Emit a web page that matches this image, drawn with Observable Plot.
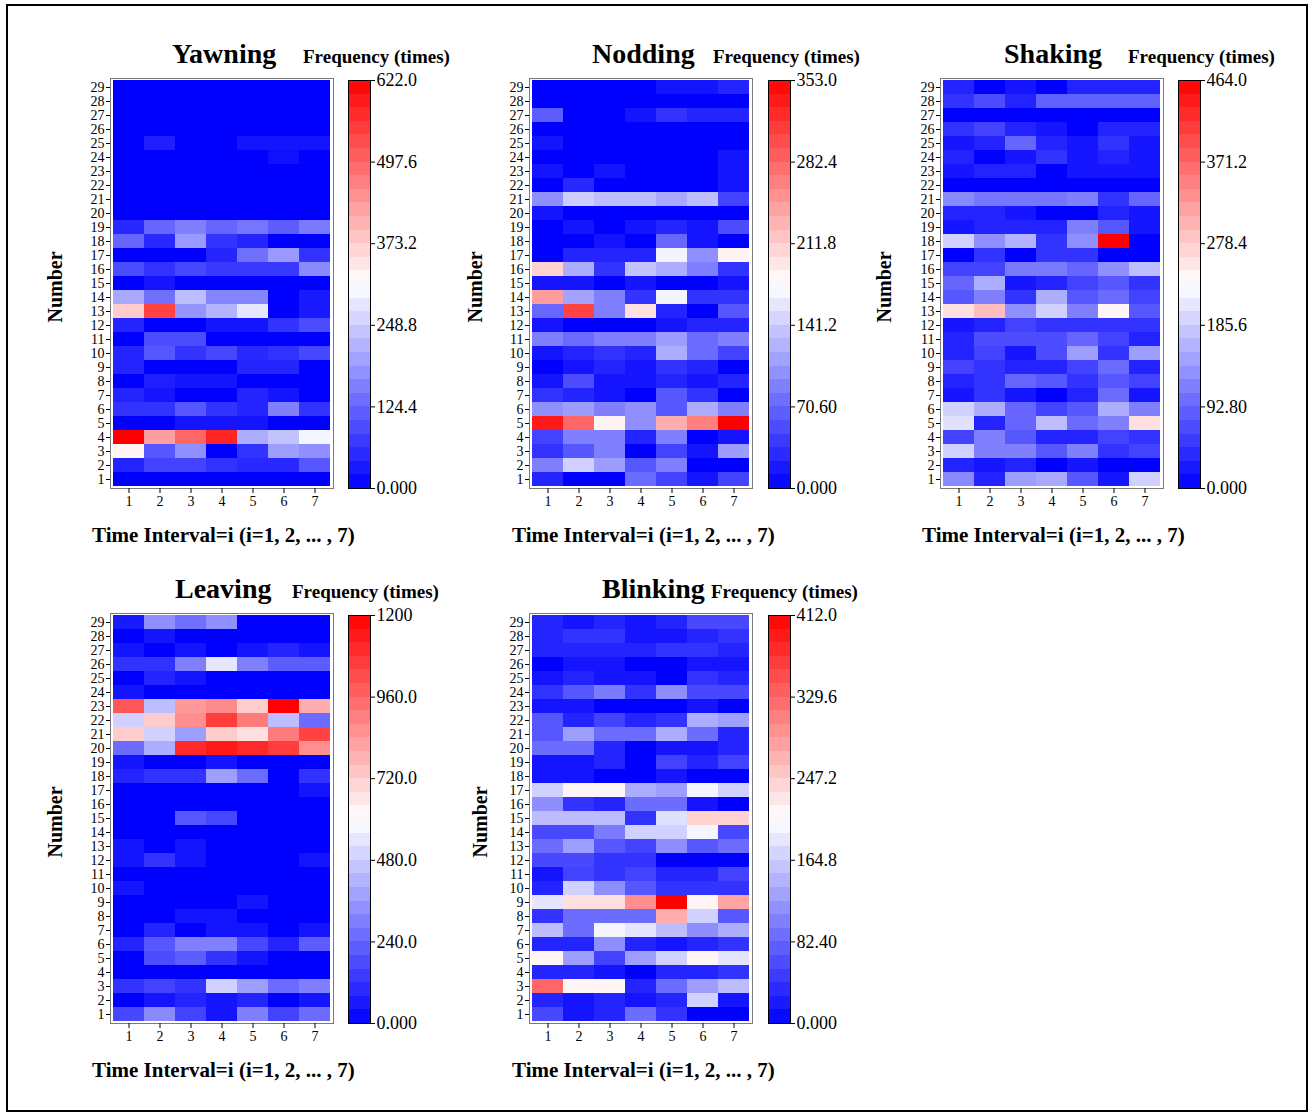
<!DOCTYPE html>
<html><head><meta charset="utf-8">
<script src="https://cdn.jsdelivr.net/npm/d3@7"></script>
<script src="https://cdn.jsdelivr.net/npm/@observablehq/plot@0.6"></script>
<style>
body{margin:0;background:#fff;font-family:"Liberation Serif","Times New Roman",serif;}
#page{position:relative;width:1313px;height:1115px;overflow:hidden;background:#fff;}
#border{position:absolute;left:6px;top:4px;width:1298px;height:1104px;border:2px solid #000;}
.abs{position:absolute;white-space:nowrap;color:#000;}
.title{font-size:28px;font-weight:bold;line-height:28px;}
.freq{font-size:19px;font-weight:bold;line-height:19px;}
.xt{font-size:21px;font-weight:bold;line-height:21px;}
.yt{font-size:20px;font-weight:bold;line-height:20px;transform:translate(-50%,-50%) rotate(-90deg);}
svg{position:absolute;overflow:visible;}
</style></head><body><div id="page"><div id="border"></div></div>
<script>
// ---------- data ----------
const intervals = [1, 2, 3, 4, 5, 6, 7];
const rows = [29,28,27,26,25,24,23,22,21,20,19,18,17,16,15,14,13,12,11,10,9,8,7,6,5,4,3,2,1];

const yawningMax = 622.0;
const yawning = [ // rows 29 -> 1, intervals 1..7
[0,0,0,0,0,0,0],[0,0,0,0,0,0,0],[0,0,0,0,0,0,0],[0,0,0,0,0,0,0],
[0,37,0,0,25,25,25],[0,0,0,0,0,19,0],[0,0,0,0,0,0,0],[0,0,0,0,0,0,0],
[0,0,0,0,0,0,0],[0,0,0,0,0,0,0],
[50,124,156,124,143,112,149],[124,50,187,62,44,0,0],[0,0,0,44,137,187,62],
[93,62,87,68,68,68,168],[0,25,0,0,0,0,0],[205,137,230,162,162,0,31],
[373,541,180,218,280,0,31],[44,0,0,25,25,62,93],[0,93,93,0,0,0,0],
[44,106,62,87,50,62,87],[44,0,0,0,44,44,0],[0,37,25,25,0,0,0],
[44,25,0,0,44,25,0],[62,62,106,62,44,156,62],[0,0,25,25,25,0,0],
[622,429,498,578,211,236,299],[323,106,174,0,62,193,174],[44,81,81,62,50,50,106],
[0,0,0,0,0,0,0]
];

const noddingMax = 353.0;
const nodding = [
[0,0,0,0,14,14,25],[0,0,0,0,0,0,0],[64,0,0,14,35,25,25],[0,0,0,0,0,0,0],
[14,0,0,0,0,0,0],[0,0,0,0,0,0,14],[14,0,14,0,0,0,14],[0,28,0,0,0,0,14],
[99,141,131,131,116,131,46],[14,0,0,0,0,0,0],[0,14,0,14,25,14,53],
[0,0,14,0,71,14,0],[0,25,25,25,169,99,184],[208,120,35,134,120,88,35],
[14,14,0,14,0,0,14],[244,113,88,35,169,35,35],[71,307,88,198,25,0,60],
[14,0,0,0,14,25,25],[88,74,88,88,109,74,88],[14,25,35,25,120,74,46],
[0,14,25,14,35,25,0],[14,53,14,14,25,14,25],[35,25,14,0,60,35,0],
[99,109,88,99,60,120,88],[335,282,184,99,233,265,353],[46,88,88,25,88,0,14],
[35,60,88,0,46,14,109],[88,145,109,60,88,0,0],[25,0,0,74,46,14,46]
];

const shakingMax = 464.0;
const shaking = [
[32,0,19,0,32,32,32],[46,70,32,88,88,88,88],[0,0,0,0,0,0,0],[46,60,32,19,0,32,32],
[19,32,93,32,19,46,19],[32,0,19,46,19,32,19],[19,32,32,0,19,19,19],[0,0,0,0,0,0,0],
[125,107,107,107,116,46,93],[32,32,19,0,0,32,19],[19,32,32,32,116,79,19],
[190,130,162,46,130,464,0],[0,46,0,46,46,0,0],[60,60,111,111,93,130,172],
[93,158,19,32,60,79,46],[79,116,46,158,79,97,60],[260,292,130,190,116,241,79],
[19,32,60,46,46,46,46],[32,70,70,70,93,60,32],[32,60,19,70,144,46,144],
[60,46,32,32,60,97,32],[32,46,93,79,46,79,60],[19,46,19,0,32,97,19],
[190,158,93,60,79,158,116],[204,32,93,172,97,116,260],[60,116,79,32,32,60,46],
[190,116,116,79,116,46,60],[32,19,32,0,19,0,0],[125,32,144,153,79,19,190]
];

const leavingMax = 1200;
const leaving = [
[60,336,264,336,0,0,0],[0,48,0,0,0,0,0],[48,0,48,0,48,84,48],[120,120,300,540,300,216,216],
[0,84,48,0,0,0,0],[48,0,0,0,0,0,0],[996,444,840,876,720,1200,792],
[492,720,864,1056,912,444,252],[720,492,372,720,672,912,1044],
[252,408,1104,1140,1104,1056,864],[48,0,0,48,0,0,0],[84,120,120,372,252,0,120],
[0,0,0,0,0,0,48],[0,0,0,0,0,0,0],[0,0,204,168,0,0,0],[0,0,0,0,0,0,0],
[48,0,48,0,0,0,0],[48,120,48,0,0,0,48],[0,0,0,0,0,0,0],[48,0,0,0,0,0,0],
[0,0,0,0,48,0,0],[0,0,48,48,0,0,0],[0,84,0,48,48,0,48],
[84,204,300,300,168,84,216],[0,180,216,120,48,0,0],[0,0,0,0,0,0,0],
[120,156,120,492,372,252,300],[0,48,84,48,84,0,48],[168,324,156,48,300,156,252]
];

const blinkingMax = 412.0;
const blinking = [
[29,16,29,16,29,58,58],[29,41,41,16,16,29,41],[29,29,29,29,41,41,29],[0,16,16,0,0,16,16],
[16,29,16,16,0,41,29],[41,70,99,41,115,58,58],[16,16,0,0,0,16,0],
[70,29,54,29,41,140,128],[70,128,87,87,140,87,29],[87,87,29,0,16,16,29],
[16,16,29,0,54,29,54],[16,16,0,0,16,0,0],[169,214,214,140,128,198,169],
[115,41,29,87,87,16,0],[152,152,152,41,181,243,243],[58,58,99,169,169,198,58],
[87,128,70,54,115,70,87],[58,58,41,41,0,0,0],[16,54,41,54,29,29,54],
[29,169,115,70,41,41,41],[185,231,231,297,412,214,280],[41,87,87,87,272,169,70],
[152,87,198,185,152,115,140],[29,29,115,29,16,29,41],[214,128,54,128,169,214,185],
[29,29,16,0,29,29,41],[330,214,214,29,87,128,152],[29,16,29,16,29,169,16],
[58,16,29,87,41,0,0]
];

const titles = ["Yawning", "Nodding", "Shaking", "Leaving", "Blinking"];
const legendTitle = "Frequency (times)";
const xTitle = "Time Interval=i (i=1, 2, ... , 7)";
const yTitle = "Number";

// ---------- layout ----------
const panels = [
  {name: titles[0], values: yawning,  max: yawningMax,  hx: 110, hy: 78,  cx: 348,  tx: 172,  fx: 303,  xtx: 92,  ytx: 55},
  {name: titles[1], values: nodding,  max: noddingMax,  hx: 529, hy: 78,  cx: 768,  tx: 592,  fx: 713,  xtx: 512, ytx: 475},
  {name: titles[2], values: shaking,  max: shakingMax,  hx: 940, hy: 78,  cx: 1178, tx: 1004, fx: 1128, xtx: 922, ytx: 884},
  {name: titles[3], values: leaving,  max: leavingMax,  hx: 110, hy: 613, cx: 348,  tx: 175,  fx: 292,  xtx: 92,  ytx: 55},
  {name: titles[4], values: blinking, max: blinkingMax, hx: 529, hy: 613, cx: 768,  tx: 602,  fx: 711,  xtx: 512, ytx: 480}
];
const HW = 223, HH = 410, CW = 22, CH = 408;
const page = document.getElementById("page");
const font = {fontFamily: "'Liberation Serif', 'Times New Roman', serif", background: "transparent", color: "#000"};

function addText(cls, txt, left, top) {
  const d = document.createElement("div");
  d.className = "abs " + cls;
  d.textContent = txt;
  d.style.left = left + "px";
  d.style.top = top + "px";
  page.appendChild(d);
  return d;
}

panels.forEach(p => {
  const color = {type: "linear", domain: [0, p.max / 2, p.max], range: ["#0000ff", "#ffffff", "#ff0000"], interpolate: "rgb"};
  const cells = [];
  p.values.forEach((r, i) => r.forEach((v, j) => cells.push({row: rows[i], interval: intervals[j], value: v})));
  const ml = 35, mt = 2;
  const heat = Plot.plot({
    width: ml + HW + 3, height: mt + HH + 30,
    marginLeft: ml, marginRight: 3, marginTop: mt, marginBottom: 30,
    x: {domain: intervals, padding: 0, label: null},
    y: {domain: rows, padding: 0, label: null},
    color,
    style: {...font, fontSize: "14px"},
    marks: [
      Plot.cell(cells, {x: "interval", y: "row", fill: "value", inset: 0, shapeRendering: "crispEdges"}),
      Plot.frame({stroke: "#7a7a7a"}),
      Plot.axisX({tickSize: 5, tickPadding: 3, fontSize: 14, label: null}),
      Plot.axisY({tickSize: 4, tickPadding: 2, fontSize: 14, label: null})
    ]
  });
  heat.style.left = (p.hx - ml) + "px";
  heat.style.top = (p.hy - mt) + "px";
  page.appendChild(heat);

  const nb = 30;
  const bands = d3.range(nb).map(k => ({lo: k * p.max / nb, hi: (k + 1) * p.max / nb, mid: (k + 0.5) * p.max / nb}));
  const cmt = 12;
  const bar = Plot.plot({
    width: 1 + CW + 75, height: cmt + CH + 12,
    marginLeft: 1, marginRight: 75, marginTop: cmt, marginBottom: 12,
    x: {domain: [0, 1], axis: null},
    y: {domain: [0, p.max], ticks: d3.range(6).map(k => k * p.max / 5), tickFormat: d3.format(".4r"), axis: "right", tickSize: 4, tickPadding: 2, label: null},
    color,
    style: {...font, fontSize: "18px"},
    marks: [
      Plot.rect(bands, {x1: 0, x2: 1, y1: "lo", y2: "hi", fill: "mid", shapeRendering: "crispEdges"}),
      Plot.frame({stroke: "#000"})
    ]
  });
  bar.style.left = (p.cx - 1) + "px";
  bar.style.top = (p.hy + 2 - cmt) + "px";
  page.appendChild(bar);

  addText("title", p.name, p.tx, p.hy - 38);
  addText("freq", legendTitle, p.fx, p.hy - 31);
  addText("xt", xTitle, p.xtx, p.hy + 447);
  addText("yt", yTitle, p.ytx, p.hy + 209);
});
</script></body></html>
